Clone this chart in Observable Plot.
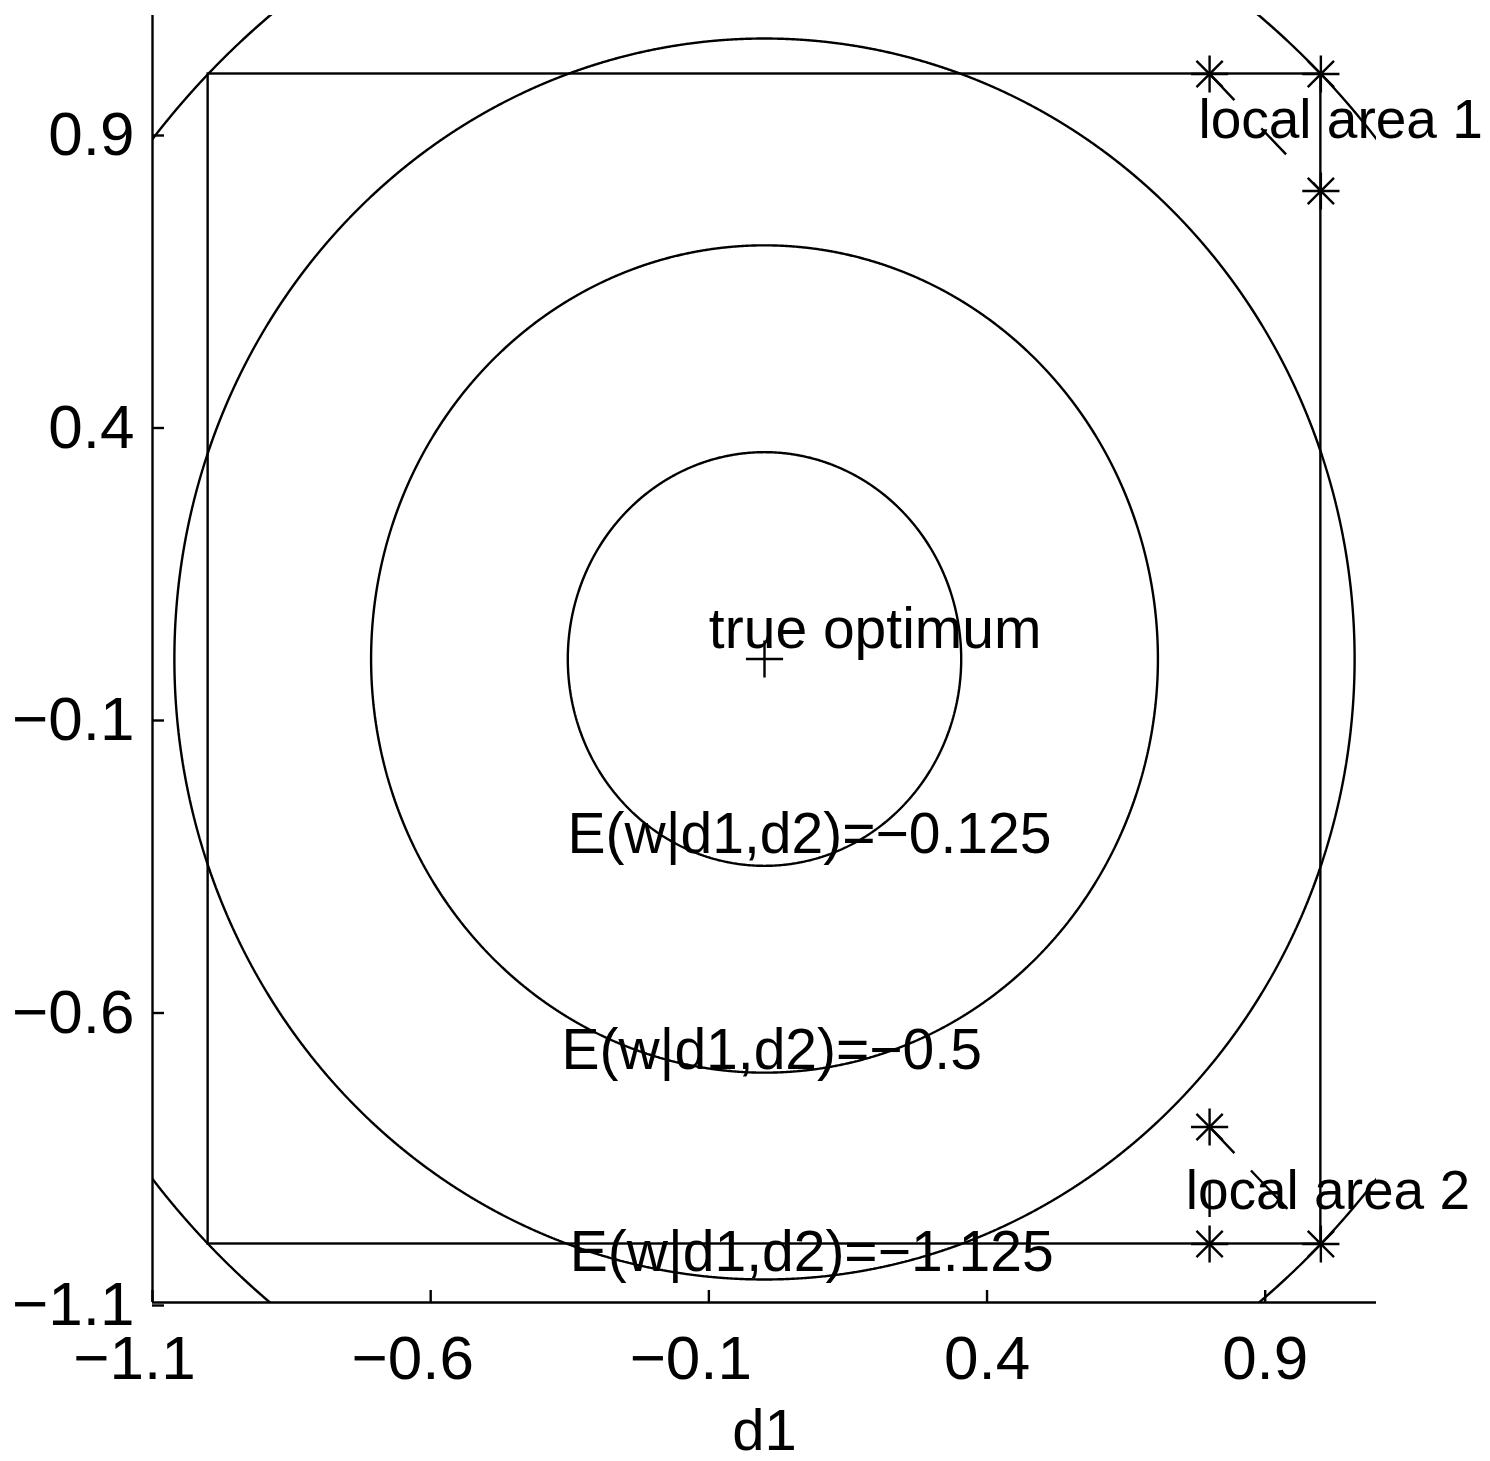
<!DOCTYPE html>
<html><head><meta charset="utf-8">
<script src="https://cdn.jsdelivr.net/npm/d3@7"></script>
<script src="https://cdn.jsdelivr.net/npm/@observablehq/plot@0.6"></script>
<style>body{margin:0;background:#fff} svg{display:block}</style>
</head><body><div id="chart"></div>
<script>
// ---- data ----
const xTicks = [-1.1, -0.6, -0.1, 0.4, 0.9];
const yTicks = [-1.1, -0.6, -0.1, 0.4, 0.9];
// contour levels of E(w|d1,d2)
const contourLevels = [-2, -1.125, -0.5, -0.125];
const E = (d1, d2) => -(d1 * d1 + d2 * d2);
const trueOptimum = [{d1: 0, d2: 0}];
const constraintBox = [{d1a: -1, d1b: 1, d2a: -1, d2b: 1}];
const localArea1 = [{d1: 0.8, d2: 1}, {d1: 1, d2: 1}, {d1: 1, d2: 0.8}];
const localArea2 = [{d1: 0.8, d2: -0.8}, {d1: 0.8, d2: -1}, {d1: 1, d2: -1}];
const contourLabels = [
  {text: "true optimum", d1: -0.1, d2: 0.05},
  {text: "E(w|d1,d2)=\u22120.125", d1: -0.354, d2: -0.3},
  {text: "E(w|d1,d2)=\u22120.5", d1: -0.365, d2: -0.669},
  {text: "E(w|d1,d2)=\u22121.125", d1: -0.35, d2: -1.015}
];
const areaLabels = [
  {text: "local area 1", d1: 0.78, d2: 0.92},
  {text: "local area 2", d1: 0.757, d2: -0.91}
];
const xLabel = ["d1"];

// ---- chart ----
const font = "'Liberation Sans', Arial, Helvetica, sans-serif";
const fmt = d3.format(".1f");
const sw = 2.4;
const seg = (a, b) => [{x1: a.d1, y1: a.d2, x2: b.d1, y2: b.d2}];
const lineStyle = {stroke: "black", strokeWidth: sw, strokeLinecap: "butt"};
const localPts = localArea1.concat(localArea2);

const chart = Plot.plot({
  width: 1490,
  height: 1461,
  marginLeft: 152,
  marginRight: 114,
  marginTop: 15,
  marginBottom: 159,
  style: {fontFamily: font, fontSize: "62px", background: "#fff", color: "black"},
  x: {domain: [-1.1, 1.1]},
  y: {domain: [-1.1, 1.1]},
  marks: [
    Plot.contour({
      x1: -1.6, x2: 1.6, y1: -1.6, y2: 1.6,
      value: E, thresholds: contourLevels, pixelSize: 1,
      fill: "none", stroke: "black", strokeWidth: sw, clip: true
    }),
    Plot.rect(constraintBox, {x1: "d1a", x2: "d1b", y1: "d2a", y2: "d2b", fill: "none", stroke: "black", strokeWidth: sw}),
    Plot.link(seg(localArea1[0], localArea1[2]), {x1: "x1", y1: "y1", x2: "x2", y2: "y2", ...lineStyle, strokeDasharray: "36,39"}),
    Plot.link(seg(localArea2[0], localArea2[2]), {x1: "x1", y1: "y1", x2: "x2", y2: "y2", ...lineStyle, strokeDasharray: "36,24,53,100"}),
    Plot.link(seg(localArea2[0], localArea2[1]), {x1: "x1", y1: "y1", x2: "x2", y2: "y2", ...lineStyle, strokeDasharray: "0,56,34,100"}),
    Plot.dot(localPts, {x: "d1", y: "d2", symbol: "plus", r: 12, stroke: "black", strokeWidth: sw}),
    Plot.dot(localPts, {x: "d1", y: "d2", symbol: "times", r: 12, stroke: "black", strokeWidth: sw}),
    Plot.dot(trueOptimum, {x: "d1", y: "d2", symbol: "plus", r: 12, stroke: "black", strokeWidth: sw}),
    Plot.text(contourLabels, {x: "d1", y: "d2", text: "text", textAnchor: "start", fontSize: 57, fill: "black"}),
    Plot.text(areaLabels, {x: "d1", y: "d2", text: "text", textAnchor: "start", fontSize: 55, fill: "black"}),
    Plot.ruleX([-1.1], {stroke: "black", strokeWidth: sw}),
    Plot.ruleY([-1.1], {stroke: "black", strokeWidth: sw}),
    // inward ticks
    Plot.axisX({ticks: xTicks, tickFormat: () => "", tickSize: -12, strokeWidth: sw, label: null, stroke: "black"}),
    // x tick labels (negative labels sit a little left, as in the original)
    Plot.axisX({ticks: xTicks.filter(d => d < 0), tickFormat: fmt, tickSize: 0, tickPadding: 32, dx: -18, label: null, fill: "black"}),
    Plot.axisX({ticks: xTicks.filter(d => d >= 0), tickFormat: fmt, tickSize: 0, tickPadding: 32, label: null, fill: "black"}),
    Plot.axisY({ticks: yTicks, tickFormat: fmt, tickSize: -12, tickPadding: 30, dy: 3, strokeWidth: sw, label: null, fill: "black", stroke: "black"}),
    Plot.text(xLabel, {text: d => d, frameAnchor: "bottom", dy: 147, lineAnchor: "bottom", fontSize: 58, fill: "black"})
  ]
});
document.getElementById("chart").appendChild(chart);
</script>
</body></html>
